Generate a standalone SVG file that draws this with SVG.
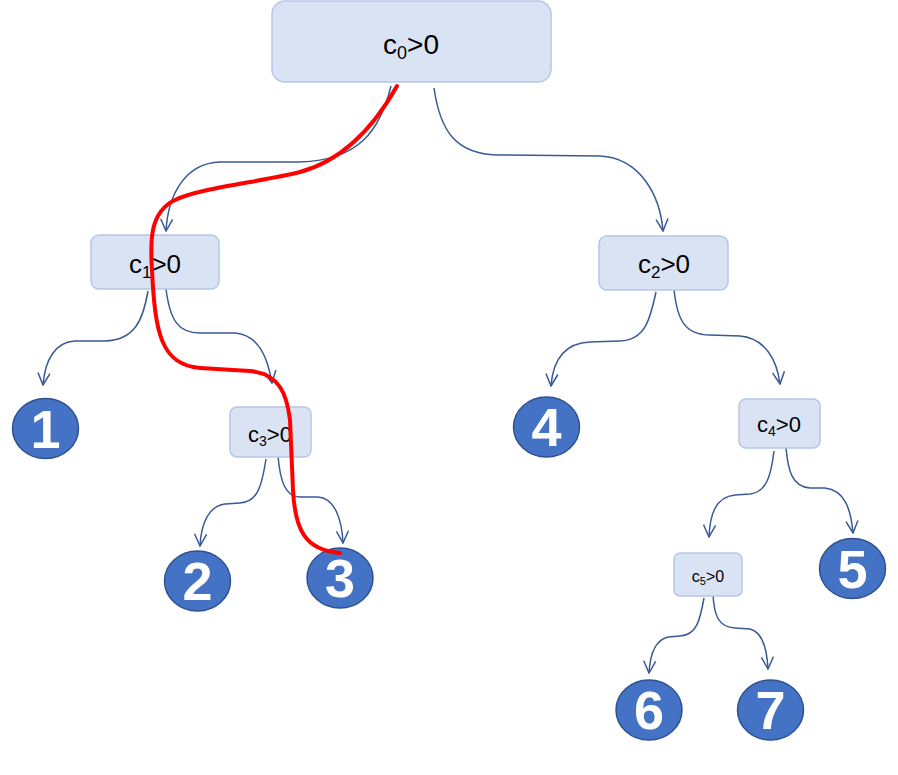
<svg xmlns="http://www.w3.org/2000/svg" width="898" height="775" viewBox="0 0 898 775">
<style>
.box{fill:#DAE3F3;stroke:#B4C7E7;stroke-width:1.5}
.lbl{font-family:"Liberation Sans",Arial,sans-serif;fill:#000;text-anchor:middle}
.leaf{fill:#4472C4;stroke:#2F528F;stroke-width:1.5}
.num{font-family:"Liberation Sans",Arial,sans-serif;font-weight:bold;font-size:54px;fill:#fff;text-anchor:middle}
.edge{fill:none;stroke:#3A5A96;stroke-width:1.5;marker-end:url(#arr)}
.path{fill:none;stroke:#FF0000;stroke-width:4;stroke-linecap:round}
</style>
<defs>
<marker id="arr" markerUnits="userSpaceOnUse" viewBox="0 0 14 14" refX="13" refY="7" markerWidth="14" markerHeight="14" orient="auto">
<path d="M1,1 L13,7 L1,13" fill="none" stroke="#3A5A96" stroke-width="1.5"/>
</marker>
</defs>
<rect width="898" height="775" fill="#fff"/>
<g id="connectors">
<path class="edge" d="M391,86 C380,130 360,160 300,162 L220,162 C185,163 168,195 166,231"/>
<path class="edge" d="M434,88 C440,130 455,155 500,155 L600,156 C640,158 660,195 663,231"/>
<path class="edge" d="M148,291 C143,320 135,340 105,341 L75,341 C55,342 45,360 43,385"/>
<path class="edge" d="M166,289 C170,320 178,333 200,333 L235,333 C260,335 268,360 272,383"/>
<path class="edge" d="M656,292 C650,320 645,340 620,341 L590,342 C565,343 553,360 551,386"/>
<path class="edge" d="M674,289 C677,320 685,335 710,335 L740,336 C765,338 777,360 780,384"/>
<path class="edge" d="M266,459 C262,485 258,502 240,503 L225,504 C208,506 201,525 200,546"/>
<path class="edge" d="M278,456 C280,480 285,497 300,497 L318,497 C335,498 342,520 343,543"/>
<path class="edge" d="M774,451 C771,475 767,492 750,494 L735,495 C715,497 710,515 709,537"/>
<path class="edge" d="M786,448 C788,470 792,487 810,488 L825,488 C845,490 851,510 853,533"/>
<path class="edge" d="M704,598 C700,620 697,635 680,636 L668,637 C655,640 650,655 649,673"/>
<path class="edge" d="M713,594 C714,615 718,627 735,628 L750,629 C763,632 767,650 768,669"/>
</g>
<g id="c0"><rect class="box" x="272" y="1" width="279" height="81" rx="13"/><text class="lbl" x="411" y="54" font-size="28">c<tspan font-size="18" dy="5">0</tspan><tspan dy="-5">&gt;0</tspan></text></g>
<g id="c1"><rect class="box" x="91" y="235" width="128" height="54" rx="8"/><text class="lbl" x="155" y="273" font-size="26">c<tspan font-size="17" dy="5">1</tspan><tspan dy="-5">&gt;0</tspan></text></g>
<g id="c2"><rect class="box" x="599" y="236" width="129" height="54" rx="8"/><text class="lbl" x="664" y="273" font-size="26">c<tspan font-size="17" dy="5">2</tspan><tspan dy="-5">&gt;0</tspan></text></g>
<g id="c3"><rect class="box" x="230" y="407" width="81" height="50" rx="7"/><text class="lbl" x="270" y="442" font-size="22">c<tspan font-size="14" dy="4">3</tspan><tspan dy="-4">&gt;0</tspan></text></g>
<g id="c4"><rect class="box" x="739" y="399" width="81" height="49" rx="7"/><text class="lbl" x="779" y="432" font-size="22">c<tspan font-size="14" dy="4">4</tspan><tspan dy="-4">&gt;0</tspan></text></g>
<g id="c5"><rect class="box" x="674" y="553" width="68" height="43" rx="6"/><text class="lbl" x="708" y="582" font-size="16">c<tspan font-size="11" dy="3">5</tspan><tspan dy="-3">&gt;0</tspan></text></g>
<g id="leaf1"><ellipse class="leaf" cx="45.5" cy="428.5" rx="33" ry="30"/><text class="num" x="45.5" y="448">1</text></g>
<g id="leaf2"><ellipse class="leaf" cx="197.5" cy="581" rx="33" ry="30"/><text class="num" x="197.5" y="600">2</text></g>
<g id="leaf3"><ellipse class="leaf" cx="340" cy="578" rx="33" ry="30"/><text class="num" x="340" y="597">3</text></g>
<g id="leaf4"><ellipse class="leaf" cx="546.5" cy="427" rx="33" ry="30"/><text class="num" x="546.5" y="446">4</text></g>
<g id="leaf5"><ellipse class="leaf" cx="852.5" cy="568.5" rx="33" ry="30"/><text class="num" x="852.5" y="588">5</text></g>
<g id="leaf6"><ellipse class="leaf" cx="649" cy="710" rx="33" ry="30"/><text class="num" x="649" y="729">6</text></g>
<g id="leaf7"><ellipse class="leaf" cx="770.5" cy="710" rx="33" ry="30"/><text class="num" x="770.5" y="729">7</text></g>
<path class="path" d="M397,86 C375,125 345,160 300,172 C260,182 200,188 175,200 C150,212 150,240 152,270 C155,330 160,365 200,368 L250,371 C280,374 287,395 290,420 L293,490 C295,530 305,550 340,553"/>
</svg>
